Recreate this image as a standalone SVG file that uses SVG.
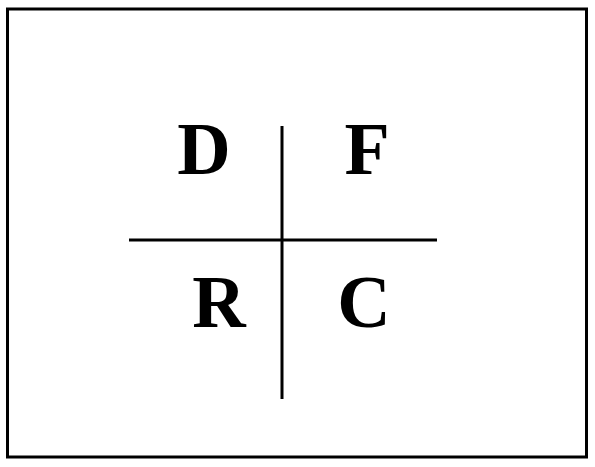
<svg xmlns="http://www.w3.org/2000/svg" width="595" height="467" viewBox="0 0 595 467">
<style>
.ln{stroke:#000;stroke-width:3;fill:none}
.lbl{font-family:"Liberation Serif","Times New Roman",serif;font-weight:bold;font-size:74px;fill:#000;text-anchor:middle}
</style>
<rect x="0" y="0" width="595" height="467" fill="#fff"/>
<rect id="frame" x="7.5" y="9" width="579" height="448" class="ln"/>
<g id="connectors">
<line class="ln" x1="282" y1="126" x2="282" y2="399"/>
<line class="ln" x1="129" y1="240" x2="437" y2="240"/>
</g>
<g id="node-D"><text class="lbl" x="204" y="174">D</text></g>
<g id="node-F"><text class="lbl" x="367" y="174">F</text></g>
<g id="node-R"><text class="lbl" x="219" y="327">R</text></g>
<g id="node-C"><text class="lbl" x="364" y="327">C</text></g>
</svg>
